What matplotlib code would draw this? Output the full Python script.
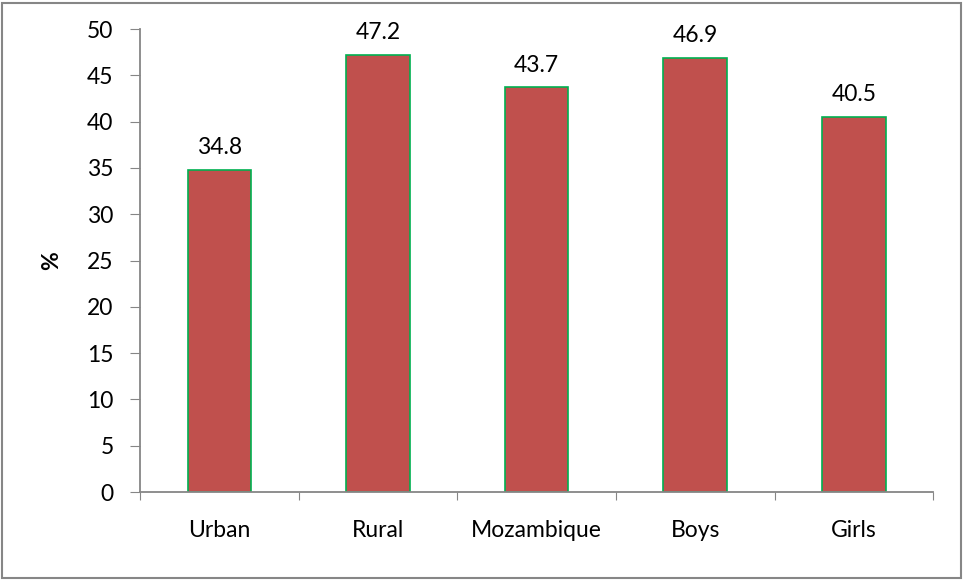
import matplotlib
matplotlib.use("Agg")
import matplotlib.pyplot as plt
from matplotlib.patches import Rectangle

categories = ["Urban", "Rural", "Mozambique", "Boys", "Girls"]
values = [34.8, 47.2, 43.7, 46.9, 40.5]
yticks = [0, 5, 10, 15, 20, 25, 30, 35, 40, 45, 50]

plt.rcParams["font.family"] = ["Lato", "DejaVu Sans"]
fs = 16.5

fig = plt.figure(figsize=(9.64, 5.8), dpi=100)
ax = fig.add_axes([0.1452, 0.1517, 0.968 - 0.1452, 0.95 - 0.1517])

x = range(len(categories))
bars = ax.bar(x, values, width=0.40, color="#C0504D", edgecolor="#00B050", linewidth=1.2)

for xi, v in zip(x, values):
    ax.annotate(f"{v}", (xi, v), xytext=(0, 8.5), textcoords="offset points",
                ha="center", va="bottom", fontsize=fs)

ax.set_xlim(-0.5, len(categories) - 0.5)
ax.set_ylim(0, 50)
ax.set_yticks(yticks)
ax.set_yticklabels([str(t) for t in yticks], fontsize=fs)
ax.set_xticks([i - 0.5 for i in range(len(categories) + 1)])
ax.set_xticklabels([])
ax.set_xticks(list(x), minor=True)
ax.set_xticklabels(categories, minor=True, fontsize=fs)
ax.tick_params(axis="x", which="minor", length=0, pad=20)
ax.tick_params(axis="x", which="major", length=6, color="#868686", direction="out")
ax.tick_params(axis="y", length=7, color="#868686", pad=12)

ax.set_ylabel("%", fontsize=fs, fontweight="bold")
ax.yaxis.set_label_coords(-0.098, 0.5)

for s in ["top", "right"]:
    ax.spines[s].set_visible(False)
for s in ["left", "bottom"]:
    ax.spines[s].set_color("#868686")
    ax.spines[s].set_linewidth(1.3)

fig.patches.append(Rectangle((0.002, 0.003), 0.995, 0.992, transform=fig.transFigure,
                             fill=False, edgecolor="#868686", linewidth=1.5))

fig.savefig("out.png", dpi=100)
